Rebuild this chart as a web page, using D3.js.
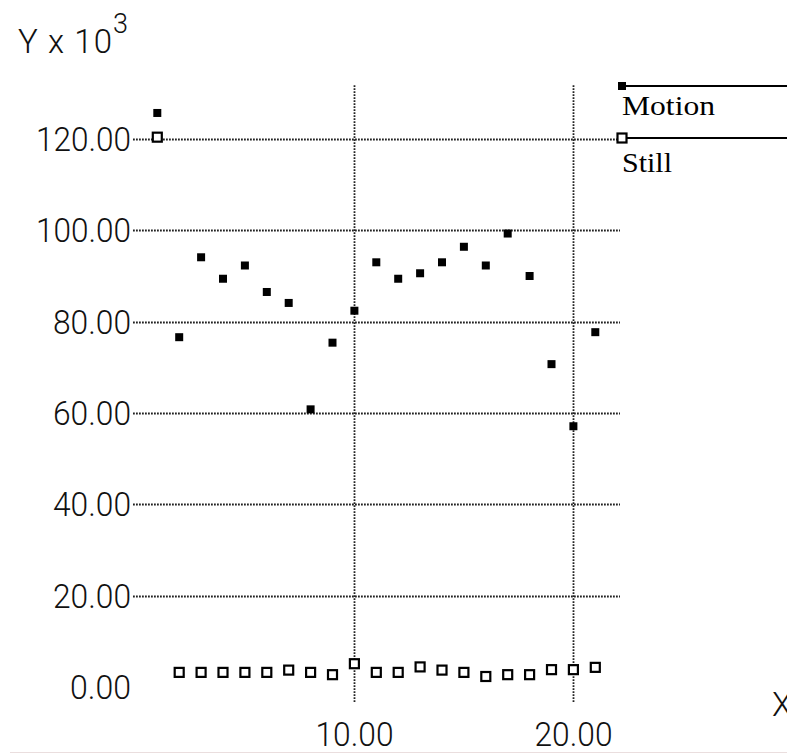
<!DOCTYPE html>
<html>
<head>
  <meta charset="UTF-8">
  <script src="https://d3js.org/d3.v7.min.js"></script>
</head>
<body style="margin:0;background:#fff">
  <svg id="chart"></svg>
</body>
<style>
  .tick text, .axtitle { font-family: Roboto, 'Liberation Sans', Arial, sans-serif; font-weight: 300; fill: #111; }
  .legendtext { font-family: 'Liberation Serif', 'Times New Roman', serif; fill: #000; }
</style>
<script type="text/javascript">
  // data
  const runs = [1, 2, 3, 4, 5, 6, 7, 8, 9, 10, 11, 12, 13, 14, 15, 16, 17, 18, 19, 20, 21];
  const motion = [125.7, 76.6, 94.1, 89.4, 92.3, 86.5, 84.1, 60.8, 75.4, 82.4, 93.0,
                  89.4, 90.6, 93.0, 96.4, 92.3, 99.3, 90.0, 70.7, 57.1, 77.7];
  const still = [120.4, 3.2, 3.2, 3.2, 3.2, 3.2, 3.7, 3.2, 2.7, 5.1, 3.2,
                 3.2, 4.4, 3.7, 3.2, 2.3, 2.7, 2.7, 3.8, 3.8, 4.3];
  const yTicks = [0, 20, 40, 60, 80, 100, 120];
  const xTicks = [10, 20];
  const seriesNames = ['Motion', 'Still'];

  const W = 787, H = 753;
  const svg = d3.select('#chart').attr('width', W).attr('height', H);

  const plot = { left: 133, right: 620, top: 84, bottom: 702 };

  const x = d3.scaleLinear().domain([0, 22]).range([135.4, 617.2]);
  const y = d3.scaleLinear().domain([0, 120]).range([687, 139]);
  const fmt = d3.format('.2f');
  const labelWidth = d => fmt(d).replace('.', '').length * 17 + 10;

  // faint frame line at the bottom
  svg.append('line')
    .attr('x1', 10).attr('x2', W).attr('y1', 752.5).attr('y2', 752.5)
    .attr('stroke', '#eadede').attr('stroke-width', 1);

  // y axis with horizontal dotted grid
  const yAxis = svg.append('g')
    .attr('transform', `translate(${plot.left},0)`)
    .call(d3.axisLeft(y).tickValues(yTicks).tickFormat(fmt)
      .tickSize(-(plot.right - plot.left)).tickPadding(2)
      .offset(0));
  yAxis.select('.domain').remove();
  yAxis.attr('font-size', null).attr('font-family', null);
  yAxis.selectAll('.tick').attr('transform', d => `translate(0,${Math.round(y(d)) + 0.5})`);
  yAxis.selectAll('.tick line')
    .attr('stroke', '#222').attr('stroke-width', 1.8).attr('stroke-dasharray', '1.8,1.2')
    .filter(d => d === 0).remove();
  yAxis.selectAll('.tick text')
    .attr('font-size', 33)
    .attr('dy', '0.35em')
    .attr('textLength', labelWidth)
    .attr('lengthAdjust', 'spacingAndGlyphs');

  // x axis with vertical dotted grid
  const xAxis = svg.append('g')
    .attr('transform', `translate(0,${plot.bottom})`)
    .call(d3.axisBottom(x).tickValues(xTicks).tickFormat(fmt)
      .tickSize(-(plot.bottom - plot.top)).tickPadding(21)
      .offset(0));
  xAxis.select('.domain').remove();
  xAxis.attr('font-size', null).attr('font-family', null);
  xAxis.selectAll('.tick').attr('transform', d => `translate(${Math.round(x(d)) + 0.5},0)`);
  xAxis.selectAll('.tick line')
    .attr('stroke', '#222').attr('stroke-width', 1.8).attr('stroke-dasharray', '1.8,1.2');
  xAxis.selectAll('.tick text')
    .attr('font-size', 33)
    .attr('textLength', labelWidth)
    .attr('lengthAdjust', 'spacingAndGlyphs');

  // axis titles
  const yTitle = svg.append('text')
    .attr('class', 'axtitle')
    .attr('x', 18).attr('y', 53)
    .attr('font-size', 33);
  yTitle.append('tspan').attr('textLength', 94).attr('lengthAdjust', 'spacing').text('Y x 10');
  yTitle.append('tspan').attr('x', 113).attr('y', 33).attr('font-size', 27).text('3');

  svg.append('text')
    .attr('class', 'axtitle')
    .attr('x', 772).attr('y', 716)
    .attr('font-size', 33)
    .text('X');

  // points
  const pts = runs.map((r, i) => ({ r: r, m: motion[i], s: still[i] }));

  svg.append('g').attr('class', 'still')
    .selectAll('rect')
    .data(pts)
    .join('rect')
    .attr('x', d => x(d.r) - 4.5)
    .attr('y', d => y(d.s) - 4.5)
    .attr('width', 9).attr('height', 9)
    .attr('fill', '#fff').attr('stroke', '#000').attr('stroke-width', 2.2);

  svg.append('g').attr('class', 'motion')
    .selectAll('rect')
    .data(pts)
    .join('rect')
    .attr('x', d => x(d.r) - 4)
    .attr('y', d => y(d.m) - 4)
    .attr('width', 8).attr('height', 8)
    .attr('fill', '#000');

  // legend
  const legendY = [86, 138];
  const legend = svg.append('g').attr('class', 'legend');
  seriesNames.forEach((name, i) => {
    const ly = legendY[i];
    legend.append('line')
      .attr('x1', 622).attr('x2', W).attr('y1', ly).attr('y2', ly)
      .attr('stroke', '#000').attr('stroke-width', 2);
    if (i === 0) {
      legend.append('rect')
        .attr('x', 618).attr('y', ly - 4).attr('width', 8).attr('height', 8)
        .attr('fill', '#000');
    } else {
      legend.append('rect')
        .attr('x', 617.5).attr('y', ly - 4.5).attr('width', 9).attr('height', 9)
        .attr('fill', '#fff').attr('stroke', '#000').attr('stroke-width', 2.2);
    }
    legend.append('text')
      .attr('class', 'legendtext')
      .attr('x', 622).attr('y', ly + (i === 0 ? 29 : 34))
      .attr('font-size', 27)
      .attr('textLength', i === 0 ? 93 : 50)
      .attr('lengthAdjust', 'spacingAndGlyphs')
      .text(name);
  });
</script>
</html>
